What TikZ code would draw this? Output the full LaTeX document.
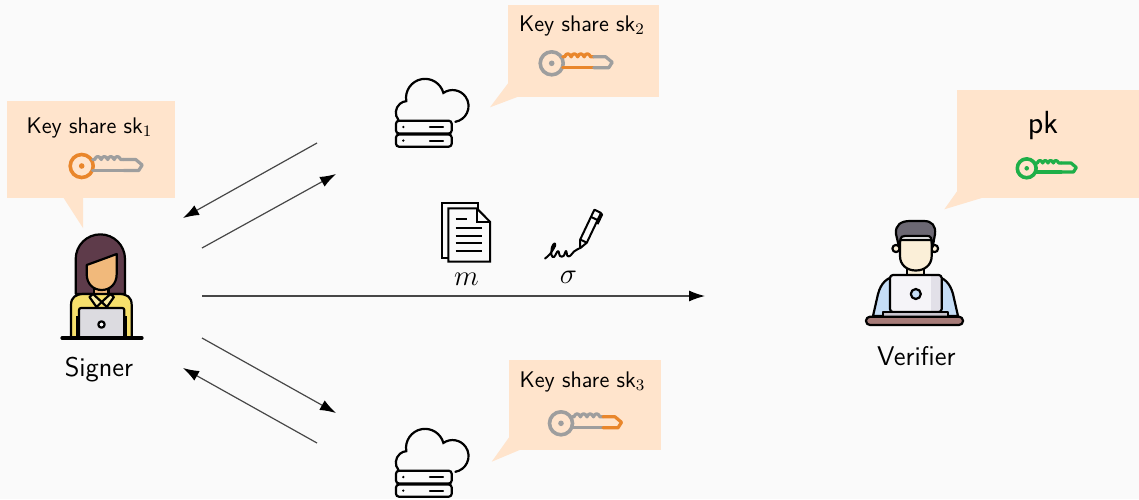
\documentclass[tikz,border=0pt]{standalone}
\usepackage{xcolor}
\usepackage{tikz}
\usetikzlibrary{arrows.meta, calc}
\definecolor{canvas}{HTML}{FAFAFA}
\definecolor{bubble}{HTML}{FFE4CC}
\definecolor{keyorange}{HTML}{E9862B}
\definecolor{keygray}{HTML}{9E9E9E}
\definecolor{keygreen}{HTML}{1EAF48}
\definecolor{hairbrown}{HTML}{5E3B4A}
\definecolor{skintan}{HTML}{F1B97B}
\definecolor{shirtyellow}{HTML}{F6E06C}
\definecolor{collarpale}{HTML}{FBEDA6}
\definecolor{laptopgray}{HTML}{DCDBE0}
\definecolor{hairgray}{HTML}{6C6873}
\definecolor{skinlight}{HTML}{FBEFD8}
\definecolor{shirtblue}{HTML}{C5DDF6}
\definecolor{laptopwhite}{HTML}{F5F4F8}
\definecolor{laptopshade}{HTML}{E2E0E8}
\definecolor{deskbrown}{HTML}{A67B78}
\definecolor{basegray}{HTML}{C9C5CE}
\definecolor{arrowline}{HTML}{474747}

\tikzset{
  callout/.style={fill=bubble},
  keyline/.style={line width=1.6pt, line cap=round, line join=round},
  outline/.style={draw=black, line width=1.1pt, line join=round},
  iconline/.style={draw=black, line width=1.1pt},
  docline/.style={draw=black, line width=1pt},
  msg/.style={draw=arrowline, line width=0.6pt, -{Latex[length=8pt, width=5.5pt, color=black]}},
  sharetext/.style={anchor=base, font=\sffamily\fontsize{11.3}{13}\selectfont},
  role/.style={anchor=base, font=\sffamily\fontsize{13.5}{16}\selectfont},
  mathtext/.style={anchor=base, font=\fontsize{14.5}{17}\selectfont},
  % key: ring colour, toothed body colour, tip colour
  pics/skkey/.style n args={3}{code={
    \draw[keyline, line width=1.8pt, draw=#1] (0,0) circle[radius=11.5];
    \fill[#1] (0,0) circle[radius=2.8];
    \draw[keyline, draw=#2] (11,-6.5) -- (13,-6.5)
      \foreach \t in {13,19.5,26,32.5} { .. controls (\t+1.5,-10.5) and (\t+4.5,-10.5) .. (\t+6.5,-6.5) }
      -- (42,-6.5);
    \draw[keyline, draw=#2] (11,4.5) -- (42,4.5);
    \draw[keyline, draw=#3] (42,-6.5) -- (54,-6.5) -- (60.5,-1) -- (57,4.5) -- (42,4.5);
  }},
  pics/cloudserver/.style={code={
    \draw[iconline, line cap=round] (8.5,50) arc[start angle=140, end angle=265, radius=11.5]
      arc[start angle=170, end angle=345, radius=19]
      arc[start angle=235, end angle=440, radius=16];
    \draw[iconline, rounded corners=1.5pt] (6,50.7) rectangle (61.7,63.5);
    \draw[iconline, rounded corners=1.5pt] (6,64.5) rectangle (61.7,76.7);
    \fill (13.3,57) circle[radius=1.3];
    \fill (13.3,70.6) circle[radius=1.3];
    \draw[iconline, line cap=round] (40,57) -- (53,57);
    \draw[iconline, line cap=round] (40,70.6) -- (53,70.6);
  }}
}

\begin{document}
\begin{tikzpicture}[x=0.5pt, y=-0.5pt]
  \fill[canvas] (0,0) rectangle (1139,499);
  \useasboundingbox (0,0) rectangle (1139,499);

  % speech bubbles
  \fill[callout] (7,101) rectangle (175,198);
  \fill[callout] (63,197) -- (83,228) -- (83,197) -- cycle;
  \fill[callout] (508,5) rectangle (659,97);
  \fill[callout] (509,82) -- (490,107.3) -- (520,96) -- cycle;
  \fill[callout] (509,360) rectangle (661,450);
  \fill[callout] (510,436) -- (491.7,461.7) -- (522,449) -- cycle;
  \fill[callout] (957,90) rectangle (1139,198);
  \fill[callout] (958,190) -- (944.3,209.3) -- (985,197) -- cycle;

  \node[sharetext] (sk1) at (89.5,133.3) {Key share sk$_1$};
  \node[sharetext] (sk2) at (582,31.7) {Key share sk$_2$};
  \node[sharetext] (sk3) at (582.5,387.3) {Key share sk$_3$};
  \node[anchor=base, font=\sffamily\fontsize{16}{19}\selectfont] (pk) at (1043,133.3) {pk};

  \pic at (81.7,166) {skkey={keyorange}{keygray}{keygray}};
  \pic at (551.7,63.3) {skkey={keygray}{keyorange}{keygray}};
  \pic at (561,423.3) {skkey={keygray}{keygray}{keyorange}};
  \pic[scale=0.82] at (1026.7,168.3) {skkey={keygreen}{keygreen}{keygreen}};

  % servers
  \pic at (390,70) {cloudserver};
  \pic at (390,420) {cloudserver};

  % signer
  \filldraw[outline, fill=hairbrown] (75.7,294) -- (75.7,259) arc[start angle=180, end angle=360, radius=24.65] -- (125,294) -- cycle;
  \filldraw[outline, fill=skintan] (94,284) rectangle (108.5,298);
  \filldraw[outline, fill=skintan] (86.7,265) .. controls (95,262) and (106,258) .. (116.7,254) -- (116.7,274)
    .. controls (116.7,284) and (110,290) .. (101.7,290) .. controls (93.4,290) and (86.7,284) .. (86.7,274) -- cycle;
  \filldraw[outline, fill=shirtyellow] (71,338) -- (71,305) .. controls (71,297) and (76,294) .. (84,294) -- (119,294)
    .. controls (127,294) and (131.7,297) .. (131.7,305) -- (131.7,338) -- cycle;
  \filldraw[outline, fill=collarpale] (93,294) -- (101.7,302) -- (96.5,307) -- (89.5,297) -- cycle;
  \filldraw[outline, fill=collarpale] (110.4,294) -- (101.7,302) -- (106.9,307) -- (113.9,297) -- cycle;
  \draw[outline] (77,316) -- (77,338);
  \draw[outline] (126,316) -- (126,338);
  \filldraw[outline, fill=laptopgray, rounded corners=1pt] (79,338) -- (79,308) -- (124.3,308) -- (124.3,338);
  \filldraw[outline, fill=white] (101.5,324.5) circle[radius=3.2];
  \draw[line width=1.6pt, line cap=round] (62,338) -- (142,338);
  \node[role] (signer) at (99,376) {Signer};

  % verifier
  \filldraw[outline, fill=skinlight] (896,248.5) circle[radius=3.6];
  \filldraw[outline, fill=skinlight] (934.5,248.5) circle[radius=3.6];
  \filldraw[outline, fill=skinlight] (907,264) rectangle (924,278);
  \filldraw[outline, fill=skinlight] (900,240) -- (900,256) .. controls (900,265) and (907,270.5) .. (915.8,270.5)
    .. controls (924.6,270.5) and (931.7,265) .. (931.7,256) -- (931.7,240) -- cycle;
  \filldraw[outline, fill=hairgray] (899,247) -- (896,234) .. controls (895,225) and (901,221) .. (910,221) -- (924,221)
    .. controls (932,221) and (936,226) .. (935,234) -- (932.7,247) -- (931,238) .. controls (930,236) and (929,236) .. (927,236)
    -- (905,236) .. controls (902,236) and (901,237) .. (900.5,239) -- cycle;
  \filldraw[outline, fill=shirtblue] (873,316) -- (878,294) .. controls (881,283) and (887,277) .. (897,276) -- (934,276)
    .. controls (944,277) and (950,283) .. (953,294) -- (958,316) -- cycle;
  \fill[laptopwhite] (890,275) rectangle (941.7,312);
  \fill[laptopshade] (931,276) rectangle (941,311);
  \draw[outline, rounded corners=1.5pt] (890,312) -- (890,275) -- (941.7,275) -- (941.7,312) -- cycle;
  \filldraw[outline, fill=shirtblue] (915.8,294) circle[radius=5];
  \filldraw[outline, fill=basegray] (883.3,311.7) rectangle (948.3,316.7);
  \filldraw[outline, fill=deskbrown, rounded corners=2pt] (866,316.7) rectangle (963,325);
  \node[role] (verifier) at (916.3,365) {Verifier};

  % message document
  \filldraw[docline, fill=canvas] (442.3,203.3) rectangle (478.3,258.3);
  \filldraw[docline, fill=canvas] (448.3,208.3) -- (476.7,208.3) -- (490,221.7) -- (490,261.7) -- (448.3,261.7) -- cycle;
  \draw[docline] (476.7,208.3) -- (476.7,221.7) -- (490,221.7);
  \draw[docline] (455.7,219) -- (466.7,219);
  \foreach \y in {228.3,235.7,243.3,251}
    \draw[docline] (455.7,\y) -- (481.7,\y);
  \node[mathtext] (m) at (466.5,285) {$m$};

  % signature and pen
  \draw[line width=1pt, line cap=round, line join=round] plot[smooth, tension=0.6] coordinates {(545,258.5) (550,254) (555,246) (554.5,243.5) (552,247) (551.5,255) (554,257) (558,251) (560,256) (563.5,256) (566,251) (567.5,256) (570.5,255.5) (574,251.5) (579,248.5)};
  \draw[docline, line join=round] (580,248.3) -- (580.2,239.5) -- (593.1,212.4) -- (594.4,209.7) -- (601,212.9) -- (599.7,215.6) -- (586.8,242.7) -- cycle;
  \draw[docline] (580.2,239.5) -- (586.8,242.7);
  \draw[docline] (591,216.9) -- (597.6,220.1);
  \draw[docline, line join=round] (600.6,213.6) -- (602.2,214.4) -- (597.5,224.2);
  \node[mathtext] (sigma) at (568.5,283) {$\sigma$};

  % protocol messages
  \coordinate (s-in1) at (183,218);
  \coordinate (c2-out) at (317,143);
  \coordinate (s-out1) at (202,248);
  \coordinate (c2-in) at (336,174);
  \coordinate (s-out) at (202,296);
  \coordinate (v-in) at (705,296);
  \coordinate (s-out3) at (202,338);
  \coordinate (c3-in) at (336,413);
  \coordinate (c3-out) at (317,443);
  \coordinate (s-in3) at (183,368);
  \draw[msg] (c2-out) -- (s-in1);
  \draw[msg] (s-out1) -- (c2-in);
  \draw[msg] (s-out) -- (v-in);
  \draw[msg] (s-out3) -- (c3-in);
  \draw[msg] (c3-out) -- (s-in3);
\end{tikzpicture}
\end{document}
